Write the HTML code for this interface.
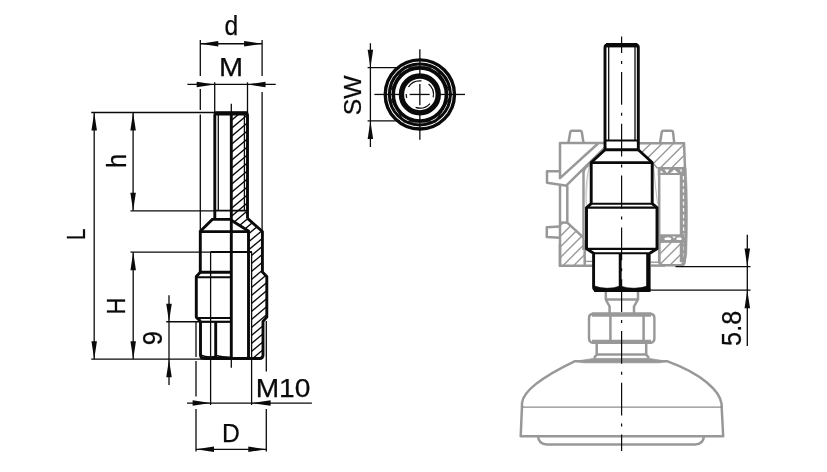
<!DOCTYPE html>
<html><head><meta charset="utf-8"><title>Drawing</title>
<style>html,body{margin:0;padding:0;background:#fff;}svg{display:block;will-change:transform}</style>
</head><body>
<svg width="827" height="472" viewBox="0 0 827 472" font-family="'Liberation Sans', sans-serif">
<rect width="827" height="472" fill="#fff"/>
<defs>
<clipPath id="cl1"><path d="M231.3,113.3 L247.5,113.3 L247.5,218.6 L262.4,231.5 L262.4,272 L266.8,276.5 L266.8,317 L263,321.4 L263,358.5 L251.6,358.5 L251.6,252 L248.5,252 L248.5,231 L231.3,220.2 Z"/></clipPath>
</defs>
<g clip-path="url(#cl1)" stroke="#0a0a0a" stroke-width="1.35">
<line x1="231" y1="112.70" x2="268" y2="81.65"/>
<line x1="231" y1="120.70" x2="268" y2="89.65"/>
<line x1="231" y1="128.70" x2="268" y2="97.65"/>
<line x1="231" y1="136.70" x2="268" y2="105.65"/>
<line x1="231" y1="144.70" x2="268" y2="113.65"/>
<line x1="231" y1="152.70" x2="268" y2="121.65"/>
<line x1="231" y1="160.70" x2="268" y2="129.65"/>
<line x1="231" y1="168.70" x2="268" y2="137.65"/>
<line x1="231" y1="176.70" x2="268" y2="145.65"/>
<line x1="231" y1="184.70" x2="268" y2="153.65"/>
<line x1="231" y1="192.70" x2="268" y2="161.65"/>
<line x1="231" y1="200.70" x2="268" y2="169.65"/>
<line x1="231" y1="208.70" x2="268" y2="177.65"/>
<line x1="231" y1="216.70" x2="268" y2="185.65"/>
<line x1="231" y1="224.70" x2="268" y2="193.65"/>
<line x1="231" y1="232.70" x2="268" y2="201.65"/>
<line x1="231" y1="240.70" x2="268" y2="209.65"/>
<line x1="231" y1="248.70" x2="268" y2="217.65"/>
<line x1="231" y1="256.70" x2="268" y2="225.65"/>
<line x1="231" y1="264.70" x2="268" y2="233.65"/>
<line x1="231" y1="272.70" x2="268" y2="241.65"/>
<line x1="231" y1="280.70" x2="268" y2="249.65"/>
<line x1="231" y1="288.70" x2="268" y2="257.65"/>
<line x1="231" y1="296.70" x2="268" y2="265.65"/>
<line x1="231" y1="304.70" x2="268" y2="273.65"/>
<line x1="231" y1="312.70" x2="268" y2="281.65"/>
<line x1="231" y1="320.70" x2="268" y2="289.65"/>
<line x1="231" y1="328.70" x2="268" y2="297.65"/>
<line x1="231" y1="336.70" x2="268" y2="305.65"/>
<line x1="231" y1="344.70" x2="268" y2="313.65"/>
<line x1="231" y1="352.70" x2="268" y2="321.65"/>
<line x1="231" y1="360.70" x2="268" y2="329.65"/>
<line x1="231" y1="368.70" x2="268" y2="337.65"/>
<line x1="231" y1="376.70" x2="268" y2="345.65"/>
<line x1="231" y1="384.70" x2="268" y2="353.65"/>
<line x1="231" y1="392.70" x2="268" y2="361.65"/>
</g>
<line x1="200.3" y1="40" x2="200.3" y2="76" stroke="#0a0a0a" stroke-width="1.3" />
<line x1="200.3" y1="89" x2="200.3" y2="110" stroke="#0a0a0a" stroke-width="1.3" />
<line x1="200.3" y1="114.5" x2="200.3" y2="230" stroke="#0a0a0a" stroke-width="1.3" />
<line x1="262.1" y1="40" x2="262.1" y2="76" stroke="#0a0a0a" stroke-width="1.3" />
<line x1="262.1" y1="92" x2="262.1" y2="230" stroke="#0a0a0a" stroke-width="1.3" />
<line x1="214.7" y1="82.3" x2="214.7" y2="113" stroke="#0a0a0a" stroke-width="1.3" />
<line x1="247.5" y1="82.3" x2="247.5" y2="113" stroke="#0a0a0a" stroke-width="1.3" />
<line x1="200.3" y1="43.75" x2="262.1" y2="43.75" stroke="#0a0a0a" stroke-width="1.3" />
<polygon points="200.3,43.75 218.30,41.00 218.30,46.50" fill="#0a0a0a"/>
<polygon points="262.1,43.75 244.10,46.50 244.10,41.00" fill="#0a0a0a"/>
<line x1="187.4" y1="84.4" x2="275.7" y2="84.4" stroke="#0a0a0a" stroke-width="1.3" />
<polygon points="214.7,84.4 196.70,87.15 196.70,81.65" fill="#0a0a0a"/>
<polygon points="247.5,84.4 265.50,81.65 265.50,87.15" fill="#0a0a0a"/>
<line x1="91.25" y1="112.5" x2="215" y2="112.5" stroke="#0a0a0a" stroke-width="1.3" />
<line x1="94.2" y1="112.5" x2="94.2" y2="359.2" stroke="#0a0a0a" stroke-width="1.3" />
<polygon points="94.2,112.5 96.95,130.50 91.45,130.50" fill="#0a0a0a"/>
<polygon points="94.2,359.2 91.45,341.20 96.95,341.20" fill="#0a0a0a"/>
<line x1="133.1" y1="112.5" x2="133.1" y2="210.8" stroke="#0a0a0a" stroke-width="1.3" />
<polygon points="133.1,112.5 135.85,130.50 130.35,130.50" fill="#0a0a0a"/>
<polygon points="133.1,210.8 130.35,192.80 135.85,192.80" fill="#0a0a0a"/>
<line x1="130.5" y1="210.8" x2="215" y2="210.8" stroke="#0a0a0a" stroke-width="1.3" />
<line x1="130.5" y1="252.2" x2="211" y2="252.2" stroke="#0a0a0a" stroke-width="1.3" />
<line x1="133.2" y1="252.2" x2="133.2" y2="359.2" stroke="#0a0a0a" stroke-width="1.3" />
<polygon points="133.2,252.2 135.95,270.20 130.45,270.20" fill="#0a0a0a"/>
<polygon points="133.2,359.2 130.45,341.20 135.95,341.20" fill="#0a0a0a"/>
<line x1="91.25" y1="359.2" x2="203" y2="359.2" stroke="#0a0a0a" stroke-width="1.3" />
<line x1="169" y1="295.25" x2="169" y2="385" stroke="#0a0a0a" stroke-width="1.3" />
<polygon points="169,321.75 166.25,303.75 171.75,303.75" fill="#0a0a0a"/>
<polygon points="169,359.2 171.75,377.20 166.25,377.20" fill="#0a0a0a"/>
<line x1="166.25" y1="321.75" x2="200" y2="321.75" stroke="#0a0a0a" stroke-width="1.3" />
<line x1="196" y1="321" x2="196" y2="357" stroke="#0a0a0a" stroke-width="1.3" />
<line x1="196" y1="361" x2="196" y2="396.5" stroke="#0a0a0a" stroke-width="1.3" />
<line x1="196" y1="409" x2="196" y2="451.5" stroke="#0a0a0a" stroke-width="1.3" />
<line x1="266.3" y1="321" x2="266.3" y2="371.5" stroke="#0a0a0a" stroke-width="1.3" />
<line x1="266.3" y1="409" x2="266.3" y2="451.5" stroke="#0a0a0a" stroke-width="1.3" />
<line x1="210.6" y1="252.2" x2="210.6" y2="405" stroke="#0a0a0a" stroke-width="1.3" />
<line x1="251.6" y1="252.2" x2="251.6" y2="405" stroke="#0a0a0a" stroke-width="1.3" />
<line x1="187" y1="403.1" x2="311.9" y2="403.1" stroke="#0a0a0a" stroke-width="1.3" />
<polygon points="210.6,403.1 192.60,405.85 192.60,400.35" fill="#0a0a0a"/>
<polygon points="251.6,403.1 270.60,400.35 270.60,405.85" fill="#0a0a0a"/>
<line x1="196" y1="449.3" x2="266.3" y2="449.3" stroke="#0a0a0a" stroke-width="1.3" />
<polygon points="196,449.3 214.00,446.55 214.00,452.05" fill="#0a0a0a"/>
<polygon points="266.3,449.3 248.30,452.05 248.30,446.55" fill="#0a0a0a"/>
<line x1="231.3" y1="103.8" x2="231.3" y2="113" stroke="#0a0a0a" stroke-width="1.3" />
<line x1="231.3" y1="358" x2="231.3" y2="367.8" stroke="#0a0a0a" stroke-width="1.3" />
<line x1="218.3" y1="114" x2="218.3" y2="210.7" stroke="#0a0a0a" stroke-width="1.3" />
<line x1="244.4" y1="114" x2="244.4" y2="210.7" stroke="#0a0a0a" stroke-width="1.3" />
<path d="M214.8,219.4 L214.8,115.3 Q214.8,113.3 216.8,113.3 L245.5,113.3 Q247.5,113.3 247.5,115.3 L247.5,218.6" stroke="#0a0a0a" stroke-width="2.9" fill="none" />
<line x1="214.8" y1="113.4" x2="247.5" y2="113.4" stroke="#0a0a0a" stroke-width="4.2" />
<line x1="231.3" y1="113" x2="231.3" y2="358.5" stroke="#0a0a0a" stroke-width="2.9" />
<line x1="214.8" y1="210.7" x2="247.5" y2="210.7" stroke="#0a0a0a" stroke-width="1.8" />
<path d="M231.3,219.4 L212.3,219.4 L200.3,231.2" stroke="#0a0a0a" stroke-width="2.9" fill="none" stroke-linejoin="miter"/>
<path d="M200.3,272.2 L200.3,231.6 L248.4,231.6" stroke="#0a0a0a" stroke-width="2.9" fill="none" />
<path d="M247.5,218.4 L262.4,231.5 L262.4,272 L266.8,276.5 L266.8,317 L263,321.4 L263,355 Q263,358.5 259.5,358.5" stroke="#0a0a0a" stroke-width="2.9" fill="none" stroke-linejoin="round"/>
<path d="M231.3,220.2 L248.5,231 L248.5,358.5" stroke="#0a0a0a" stroke-width="2.9" fill="none" />
<line x1="210.6" y1="252.0" x2="252" y2="252.0" stroke="#0a0a0a" stroke-width="2.2" />
<path d="M231.3,272.2 L200.3,272.2 L196.3,276.6 L196.3,317.2 L200.5,321.4" stroke="#0a0a0a" stroke-width="2.9" fill="none" stroke-linejoin="round"/>
<line x1="196.3" y1="277.2" x2="231.3" y2="277.2" stroke="#0a0a0a" stroke-width="2.0" />
<line x1="196.6" y1="318.0" x2="231.3" y2="318.0" stroke="#0a0a0a" stroke-width="2.0" />
<line x1="200.2" y1="321.8" x2="231.3" y2="321.8" stroke="#0a0a0a" stroke-width="2.2" />
<path d="M200.5,321.4 L200.5,355.2 Q200.7,358.5 204,358.5 L260,358.5" stroke="#0a0a0a" stroke-width="2.9" fill="none" />
<line x1="204" y1="358.6" x2="260" y2="358.6" stroke="#0a0a0a" stroke-width="3.0" />
<line x1="215.7" y1="321.4" x2="215.7" y2="357" stroke="#0a0a0a" stroke-width="2.9" />
<path d="M200.5,355 Q207,358 215.7,356.6" stroke="#0a0a0a" stroke-width="1.6" fill="none" />
<path d="M215.7,355.6 Q223,357.6 231.3,357.4" stroke="#0a0a0a" stroke-width="1.6" fill="none" />
<text x="231.33" y="35.40" font-size="26.81" text-anchor="middle" fill="#0a0a0a" stroke="#0a0a0a" stroke-width="0.25" textLength="13.69" lengthAdjust="spacingAndGlyphs">d</text>
<text x="231.09" y="76.40" font-size="25.50" text-anchor="middle" fill="#0a0a0a" stroke="#0a0a0a" stroke-width="0.25" textLength="24.09" lengthAdjust="spacingAndGlyphs">M</text>
<text x="283.04" y="396.50" font-size="25.72" text-anchor="middle" fill="#0a0a0a" stroke="#0a0a0a" stroke-width="0.25" textLength="54.74" lengthAdjust="spacingAndGlyphs">M10</text>
<text x="230.89" y="441.60" font-size="25.17" text-anchor="middle" fill="#0a0a0a" stroke="#0a0a0a" stroke-width="0.25" textLength="17.78" lengthAdjust="spacingAndGlyphs">D</text>
<text x="85.04" y="234.28" font-size="25.39" text-anchor="middle" fill="#0a0a0a" stroke="#0a0a0a" stroke-width="0.25" transform="rotate(-90 85.04 234.28)" textLength="11.34" lengthAdjust="spacingAndGlyphs">L</text>
<text x="125.67" y="161.06" font-size="26.96" text-anchor="middle" fill="#0a0a0a" stroke="#0a0a0a" stroke-width="0.25" transform="rotate(-90 125.67 161.06)" textLength="14.12" lengthAdjust="spacingAndGlyphs">h</text>
<text x="125.24" y="306.16" font-size="25.39" text-anchor="middle" fill="#0a0a0a" stroke="#0a0a0a" stroke-width="0.25" transform="rotate(-90 125.24 306.16)" textLength="16.83" lengthAdjust="spacingAndGlyphs">H</text>
<text x="162.10" y="338.25" font-size="27.79" text-anchor="middle" fill="#0a0a0a" stroke="#0a0a0a" stroke-width="0.25" transform="rotate(-90 162.10 338.25)" textLength="14.23" lengthAdjust="spacingAndGlyphs">9</text>
<circle cx="419.85" cy="94.45" r="34.6" fill="none" stroke="#0a0a0a" stroke-width="3.4"/>
<circle cx="419.85" cy="94.45" r="30.5" fill="none" stroke="#0a0a0a" stroke-width="3.0"/>
<circle cx="419.85" cy="94.45" r="26.6" fill="none" stroke="#0a0a0a" stroke-width="3.6"/>
<polygon points="451.49,94.45 435.67,121.85 404.03,121.85 388.21,94.45 404.03,67.05 435.67,67.05" fill="none" stroke="#0a0a0a" stroke-width="1.2"/>
<circle cx="419.85" cy="94.45" r="18.4" fill="none" stroke="#0a0a0a" stroke-width="5.4"/>
<path d="M421.51,80.95 A13.6,13.6 0 0 0 408.44,87.04" stroke="#0a0a0a" stroke-width="1.2" fill="none" />
<path d="M406.26,93.98 A13.6,13.6 0 0 0 406.71,97.97" stroke="#0a0a0a" stroke-width="1.2" fill="none" />
<path d="M433.15,97.28 A13.6,13.6 0 0 0 428.59,84.03" stroke="#0a0a0a" stroke-width="1.2" fill="none" />
<path d="M415.65,107.38 A13.6,13.6 0 0 0 429.96,103.55" stroke="#0a0a0a" stroke-width="1.2" fill="none" />
<line x1="374.4" y1="94.45" x2="399" y2="94.45" stroke="#0a0a0a" stroke-width="1.3" />
<line x1="409.6" y1="94.45" x2="429.7" y2="94.45" stroke="#0a0a0a" stroke-width="1.3" />
<line x1="440.4" y1="94.45" x2="465" y2="94.45" stroke="#0a0a0a" stroke-width="1.3" />
<line x1="419.85" y1="49.3" x2="419.85" y2="74" stroke="#0a0a0a" stroke-width="1.3" />
<line x1="419.85" y1="84" x2="419.85" y2="105.3" stroke="#0a0a0a" stroke-width="1.3" />
<line x1="419.85" y1="115" x2="419.85" y2="139.7" stroke="#0a0a0a" stroke-width="1.3" />
<line x1="370.4" y1="43.2" x2="370.4" y2="147" stroke="#0a0a0a" stroke-width="1.3" />
<polygon points="370.4,67.7 367.65,49.70 373.15,49.70" fill="#0a0a0a"/>
<polygon points="370.4,120.9 373.15,138.90 367.65,138.90" fill="#0a0a0a"/>
<line x1="367.6" y1="67.7" x2="400" y2="67.7" stroke="#0a0a0a" stroke-width="1.3" />
<line x1="367.6" y1="120.9" x2="400" y2="120.9" stroke="#0a0a0a" stroke-width="1.3" />
<text x="360.57" y="95.25" font-size="24.73" text-anchor="middle" fill="#0a0a0a" stroke="#0a0a0a" stroke-width="0.25" transform="rotate(-90 360.57 95.25)" textLength="39.86" lengthAdjust="spacingAndGlyphs">SW</text>
<defs>
<clipPath id="cg1"><path d="M560,222.6 L567.4,222.6 L583.5,237.7 L584.7,244 L584.7,265.8 L560,265.8 Z"/></clipPath>
<clipPath id="cg2"><path d="M639,143.3 L683.5,143.3 L683.5,168.3 L655.5,168.3 L652.5,162 L639,149.8 Z"/></clipPath>
<clipPath id="cg3"><path d="M659.2,241.4 L684.8,241.4 L684.8,261 Q684.8,265.3 680.5,265.3 L663.5,265.3 Q659.2,265.3 659.2,261 Z"/></clipPath>
</defs>
<g clip-path="url(#cg1)" stroke="#989898" stroke-width="1.4">
<line x1="559" y1="226.80" x2="586" y2="199.80"/>
<line x1="559" y1="237.50" x2="586" y2="210.50"/>
<line x1="559" y1="248.20" x2="586" y2="221.20"/>
<line x1="559" y1="258.90" x2="586" y2="231.90"/>
<line x1="559" y1="269.60" x2="586" y2="242.60"/>
<line x1="559" y1="280.30" x2="586" y2="253.30"/>
<line x1="559" y1="291.00" x2="586" y2="264.00"/>
<line x1="559" y1="301.70" x2="586" y2="274.70"/>
</g>
<g clip-path="url(#cg2)" stroke="#989898" stroke-width="1.4">
<line x1="638" y1="145.00" x2="685" y2="98.00"/>
<line x1="638" y1="156.30" x2="685" y2="109.30"/>
<line x1="638" y1="167.60" x2="685" y2="120.60"/>
<line x1="638" y1="178.90" x2="685" y2="131.90"/>
<line x1="638" y1="190.20" x2="685" y2="143.20"/>
<line x1="638" y1="201.50" x2="685" y2="154.50"/>
<line x1="638" y1="212.80" x2="685" y2="165.80"/>
<line x1="638" y1="224.10" x2="685" y2="177.10"/>
</g>
<g clip-path="url(#cg3)" stroke="#989898" stroke-width="1.4">
<line x1="658" y1="245.00" x2="686" y2="217.00"/>
<line x1="658" y1="255.70" x2="686" y2="227.70"/>
<line x1="658" y1="266.40" x2="686" y2="238.40"/>
<line x1="658" y1="277.10" x2="686" y2="249.10"/>
<line x1="658" y1="287.80" x2="686" y2="259.80"/>
<line x1="658" y1="298.50" x2="686" y2="270.50"/>
</g>
<path d="M605,143 L560,143 L560,178.2 L598.6,143" stroke="#989898" stroke-width="2.5" fill="none" stroke-linejoin="round"/>
<path d="M568.4,143 L570.3,132 Q570.5,130.7 572,130.7 L580,130.7 Q581.5,130.7 581.8,132 L583.5,143" stroke="#989898" stroke-width="2.5" fill="none" />
<path d="M606,146.5 L567,184.9 L566.8,185.8 L547,182.8 L547,171.3 L560,171.3" stroke="#989898" stroke-width="2.5" fill="none" stroke-linejoin="round"/>
<line x1="560" y1="185" x2="560" y2="265.8" stroke="#989898" stroke-width="2.5" />
<path d="M567.3,185.8 L567.3,222.6 L583.5,237.7" stroke="#989898" stroke-width="2.5" fill="none" />
<line x1="560" y1="222.6" x2="567.3" y2="222.6" stroke="#989898" stroke-width="2.5" />
<path d="M583.5,171 L583.5,250" stroke="#989898" stroke-width="2.5" fill="none" />
<path d="M589.5,164.5 Q584.5,167.5 583.5,172" stroke="#989898" stroke-width="2.5" fill="none" />
<path d="M589.6,165 Q584.6,185 586.3,205" stroke="#b8b8b8" stroke-width="0.9" fill="#e4e4e4" />
<path d="M560,226.4 L546.8,227.2 L546.8,237 L560,237.7" stroke="#989898" stroke-width="2.5" fill="none" stroke-linejoin="round"/>
<path d="M560,244 L560,265.8 L593,265.8" stroke="#989898" stroke-width="2.5" fill="none" />
<path d="M584.7,240 L584.7,265" stroke="#989898" stroke-width="2.5" fill="none" />
<line x1="584.7" y1="261.4" x2="593" y2="261.4" stroke="#989898" stroke-width="1.4" />
<path d="M639,143.3 L684,143.3 L685,168.3" stroke="#989898" stroke-width="2.5" fill="none" />
<path d="M660,143.3 L661.8,132 Q662,130.7 663.5,130.7 L671.3,130.7 Q672.8,130.7 673,132 L674.3,143.3" stroke="#989898" stroke-width="2.5" fill="none" />
<path d="M652.8,163 L657.5,168.3" stroke="#989898" stroke-width="1.6" fill="none" />
<path d="M680,168 L686.2,168 Q688.4,206 686.8,254 Q686.4,260 684,262 L680,262 Z" stroke="#989898" stroke-width="0.5" fill="#989898" />
<path d="M683.4,176 L683.7,258" stroke="#f4f4f4" stroke-width="1.3" fill="none" stroke-dasharray="3.8 2.6"/>
<rect x="657.7" y="167" width="27" height="8" fill="#989898"/>
<polygon points="664.5,169.6 669.5,169.6 667,173" fill="#fff"/>
<polygon points="670.5,173 678,173 674.3,169.6" fill="#fff"/>
<polygon points="679.3,169.6 682,169.6 681.5,172.5" fill="#f0f0f0"/>
<polygon points="660,173 663.5,173 661,170" fill="#e8e8e8"/>
<line x1="659.2" y1="173.8" x2="659.2" y2="262" stroke="#989898" stroke-width="2.5" />
<path d="M653.5,165 Q655,185 657.6,204" stroke="#b8b8b8" stroke-width="0.9" fill="#e6e6e6" />
<rect x="658" y="234.3" width="26" height="8.1" fill="#989898"/>
<ellipse cx="667.8" cy="238.8" rx="3.4" ry="1.5" fill="#fff"/>
<ellipse cx="679" cy="238.8" rx="2.8" ry="1.5" fill="#fff"/>
<polygon points="672.2,236.6 675.8,236.6 674,238.6" fill="#fff"/>
<path d="M659.2,241.4 L684.8,241.4 L684.8,261 Q684.8,265.3 680.5,265.3 L663.5,265.3 Q659.2,265.3 659.2,261 Z" stroke="#989898" stroke-width="2.5" fill="none" />
<path d="M651,265.6 L665,265.6" stroke="#989898" stroke-width="2.5" fill="none" />
<line x1="651" y1="262.2" x2="660" y2="262.2" stroke="#989898" stroke-width="1.4" />
<path d="M605.8,292 L605.8,299.5 L609.6,306.5 L609.6,313" stroke="#989898" stroke-width="2.5" fill="none" />
<path d="M638,292 L638,299.5 L634,306.5 L634,313" stroke="#989898" stroke-width="2.5" fill="none" />
<line x1="605.8" y1="299.5" x2="638" y2="299.5" stroke="#989898" stroke-width="2.5" />
<path d="M592.5,313.8 L651,313.8 Q654.4,314.5 654.4,318 L654.4,338.5 Q654.4,342 651,342.7 L592.5,342.7 Q589,342 589,338.5 L589,318 Q589,314.5 592.5,313.8 Z" stroke="#989898" stroke-width="2.4" fill="none" />
<line x1="592" y1="314.6" x2="651" y2="314.6" stroke="#989898" stroke-width="4.4" />
<line x1="592" y1="341.9" x2="651" y2="341.9" stroke="#989898" stroke-width="4.4" />
<line x1="610.4" y1="314" x2="610.4" y2="342.5" stroke="#989898" stroke-width="2.5" />
<line x1="643.6" y1="314" x2="643.6" y2="342.5" stroke="#989898" stroke-width="2.5" />
<path d="M596.7,343 L596.7,354.6 L594,358" stroke="#989898" stroke-width="2.5" fill="none" />
<path d="M646.2,343 L646.2,354.6 L649,358" stroke="#989898" stroke-width="2.5" fill="none" />
<line x1="596.7" y1="354.6" x2="646.2" y2="354.6" stroke="#989898" stroke-width="2.5" />
<path d="M575,361.3 L594,358.4 L649,358.4 L667,361.3 L659,362.8 L584,362.8 Z" stroke="#989898" stroke-width="0.8" fill="#989898" />
<path d="M522,407 L522,403 C523,392 540,378 575,361.2 L667,361.2 C702,374 720,391 721.6,404 L721.6,407" stroke="#989898" stroke-width="2.5" fill="none" />
<path d="M522,406 L520.7,436.2 L723.2,436.2 L721.6,406" stroke="#989898" stroke-width="2.5" fill="none" stroke-linejoin="round"/>
<line x1="522" y1="407.1" x2="722.4" y2="407.1" stroke="#8c8c8c" stroke-width="1.4" />
<path d="M538,436 Q538.5,444.4 547,444.4 L695,444.4 Q703.5,444.4 704,436" stroke="#989898" stroke-width="2.5" fill="none" />
<line x1="608.7" y1="47" x2="608.7" y2="140.5" stroke="#0a0a0a" stroke-width="1.3" />
<line x1="635" y1="47" x2="635" y2="140.5" stroke="#0a0a0a" stroke-width="1.3" />
<path d="M605,149.8 L605,47.5 Q605,45 607.5,45 L635.8,45 Q638.3,45 638.3,47.5 L638.3,149.8" stroke="#0a0a0a" stroke-width="2.9" fill="none" />
<line x1="606" y1="45.2" x2="637.3" y2="45.2" stroke="#0a0a0a" stroke-width="4.4" />
<line x1="605" y1="140.5" x2="638.3" y2="140.5" stroke="#0a0a0a" stroke-width="1.8" />
<path d="M605,149.8 L638.3,149.8" stroke="#0a0a0a" stroke-width="2.9" fill="none" />
<path d="M605,149.8 L591.2,162.5 L591.2,203.6 L586.5,207.6 L586.5,248.8 L593.6,253.2 L593.6,287 Q593.6,290 596.6,290" stroke="#0a0a0a" stroke-width="2.9" fill="none" stroke-linejoin="round"/>
<path d="M638.3,149.8 L652.2,162.5 L652.2,203.6 L657,207.6 L657,248.8 L649.8,253.2" stroke="#0a0a0a" stroke-width="2.9" fill="none" stroke-linejoin="round"/>
<line x1="591.2" y1="162.6" x2="652.2" y2="162.6" stroke="#0a0a0a" stroke-width="2.9" />
<line x1="591.2" y1="203.8" x2="652.2" y2="203.8" stroke="#0a0a0a" stroke-width="2.0" />
<line x1="586.5" y1="207.7" x2="657" y2="207.7" stroke="#0a0a0a" stroke-width="2.2" />
<line x1="586.5" y1="248.9" x2="657" y2="248.9" stroke="#0a0a0a" stroke-width="2.2" />
<line x1="593" y1="253.2" x2="650" y2="253.2" stroke="#0a0a0a" stroke-width="2.0" />
<line x1="648.4" y1="253" x2="648.4" y2="290" stroke="#0a0a0a" stroke-width="4.4" />
<line x1="620.2" y1="253" x2="620.2" y2="290" stroke="#0a0a0a" stroke-width="2.9" />
<line x1="594" y1="290.2" x2="650.5" y2="290.2" stroke="#0a0a0a" stroke-width="3.6" />
<path d="M593.6,285.8 Q607,290.6 620.2,286 L620.2,290 L593.6,290 Z" stroke="#0a0a0a" stroke-width="0.6" fill="#0a0a0a" />
<path d="M620.2,286 Q634,290.6 648.4,285.8 L648.4,290 L620.2,290 Z" stroke="#0a0a0a" stroke-width="0.6" fill="#0a0a0a" />
<line x1="621.6" y1="36.5" x2="621.6" y2="451" stroke="#0a0a0a" stroke-width="1.2" stroke-dasharray="32.8 8 3 8" stroke-dashoffset="16.3"/>
<line x1="747.3" y1="234.8" x2="747.3" y2="346" stroke="#0a0a0a" stroke-width="1.3" />
<polygon points="747.3,266.6 744.55,248.60 750.05,248.60" fill="#0a0a0a"/>
<polygon points="747.3,290.2 750.05,308.20 744.55,308.20" fill="#0a0a0a"/>
<line x1="675.5" y1="266.6" x2="750.5" y2="266.6" stroke="#0a0a0a" stroke-width="1.3" />
<line x1="650" y1="290.2" x2="750.5" y2="290.2" stroke="#0a0a0a" stroke-width="1.3" />
<text x="741.49" y="328.36" font-size="27.12" text-anchor="middle" fill="#0a0a0a" stroke="#0a0a0a" stroke-width="0.25" transform="rotate(-90 741.49 328.36)" textLength="35.03" lengthAdjust="spacingAndGlyphs">5.8</text>
</svg>
</body></html>
